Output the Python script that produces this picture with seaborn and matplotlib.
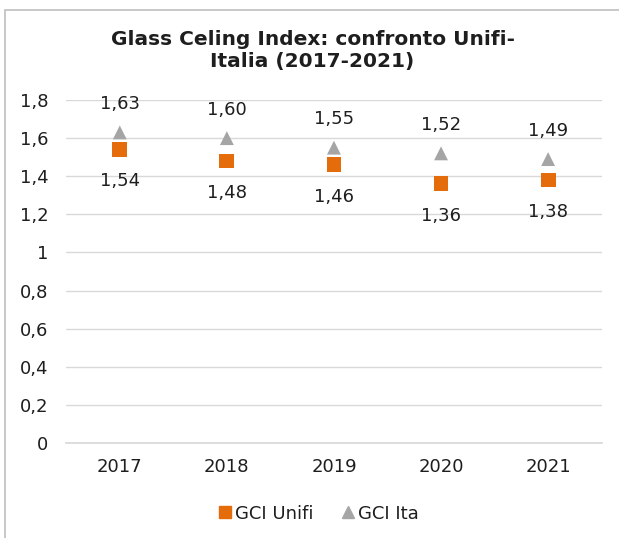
import matplotlib
matplotlib.use("Agg")
import matplotlib.pyplot as plt
import seaborn as sns
import pandas as pd
from matplotlib.patches import Rectangle
from matplotlib.lines import Line2D

years = ["2017", "2018", "2019", "2020", "2021"]
gci_unifi = [1.54, 1.48, 1.46, 1.36, 1.38]
gci_ita = [1.63, 1.60, 1.55, 1.52, 1.49]
y_ticks = [0, 0.2, 0.4, 0.6, 0.8, 1, 1.2, 1.4, 1.6, 1.8]

sns.set_theme(style="white")
plt.rcParams['font.family'] = ['DejaVu Sans']

fig = plt.figure(figsize=(6.19, 5.38), dpi=100)
ax = fig.add_axes([0.107, 0.1766, 0.865, 0.6375])

df = pd.DataFrame({"year": years * 2,
                   "value": gci_unifi + gci_ita,
                   "series": ["GCI Unifi"] * 5 + ["GCI Ita"] * 5})

orange = "#E46C0A"
gray = "#A5A5A5"
txt = "#1E1E1E"
sns.scatterplot(data=df[df.series == "GCI Unifi"], x="year", y="value", marker="s",
                color=orange, s=115, edgecolor="none", ax=ax, legend=False)
sns.scatterplot(data=df[df.series == "GCI Ita"], x="year", y="value", marker="^",
                color=gray, s=100, edgecolor="none", ax=ax, legend=False)

for i, (u, t) in enumerate(zip(gci_unifi, gci_ita)):
    ax.annotate(f"{t:.2f}".replace(".", ","), (i, t), xytext=(0, 20.5), textcoords="offset points",
                ha="center", va="center", fontsize=13, color=txt)
    ax.annotate(f"{u:.2f}".replace(".", ","), (i, u), xytext=(0, -23), textcoords="offset points",
                ha="center", va="center", fontsize=13, color=txt)

ax.set_xlim(-0.5, 4.5)
ax.set_ylim(0, 1.8)
ax.set_yticks(y_ticks)
ax.set_yticklabels([("%g" % v).replace(".", ",") for v in y_ticks])
ax.grid(axis="y", color="#D9D9D9", linewidth=1)
ax.set_axisbelow(True)
for s in ["top", "right", "left"]:
    ax.spines[s].set_visible(False)
ax.spines["bottom"].set_color("#D9D9D9")
ax.tick_params(axis="both", length=0, labelsize=13, labelcolor=txt)
ax.tick_params(axis="y", pad=13)
ax.tick_params(axis="x", pad=11)
ax.set_xlabel("")
ax.set_ylabel("")

fig.text(0.505, 0.907, "Glass Celing Index: confronto Unifi-\nItalia (2017-2021)", ha="center",
         va="center", fontsize=14.5, fontweight="bold", color=txt, linespacing=1.2)

handles = [Line2D([], [], marker="s", color=orange, linestyle="none", markersize=9),
           Line2D([], [], marker="^", color=gray, linestyle="none", markersize=9)]
fig.legend(handles, ["GCI Unifi", "GCI Ita"], loc="center", bbox_to_anchor=(0.513, 0.045),
           ncol=2, frameon=False, fontsize=13, handletextpad=0.05, columnspacing=1.4,
           handlelength=1.0, labelcolor=txt)

fig.add_artist(Rectangle((5 / 619, -0.01), 1.0, 1 - 10 / 538 + 0.01, transform=fig.transFigure,
                         fill=False, edgecolor="#BFBFBF", linewidth=1.2))

fig.savefig("out.png", dpi=100)
